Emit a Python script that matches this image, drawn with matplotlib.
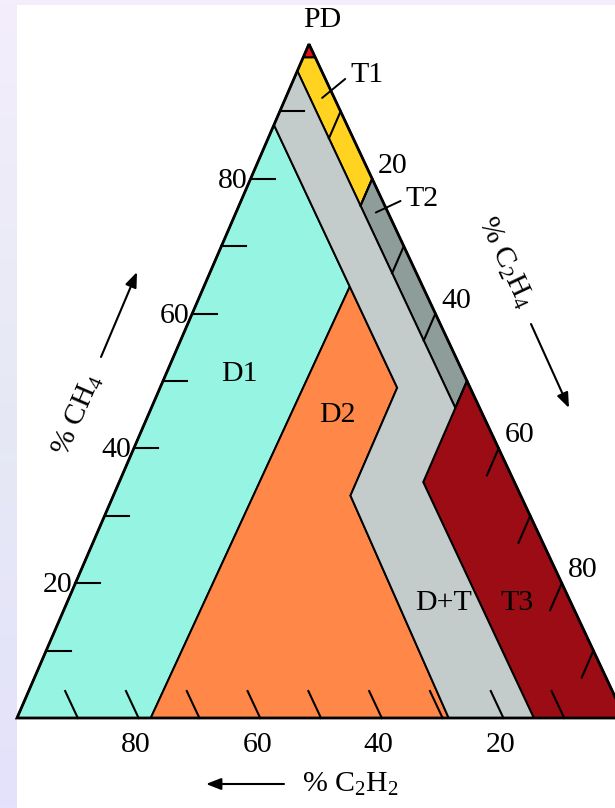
import numpy as np
import matplotlib
matplotlib.use("Agg")
import matplotlib.pyplot as plt
from matplotlib.patches import Polygon, Rectangle

# Duval triangle zones, vertices as (CH4, C2H4, C2H2) in percent
zone_names = ["PD", "T1", "T2", "T3", "D1", "D2", "D+T"]
zone_PD = [(100, 0, 0), (98, 2, 0), (98, 0, 2)]
zone_T1 = [(98, 2, 0), (80, 20, 0), (76, 20, 4), (96, 0, 4), (98, 0, 2)]
zone_T2 = [(80, 20, 0), (50, 50, 0), (46, 50, 4), (76, 20, 4)]
zone_T3 = [(50, 50, 0), (0, 100, 0), (0, 85, 15), (35, 50, 15), (46, 50, 4)]
zone_D1 = [(88, 0, 12), (64, 24, 12), (0, 22, 78), (0, 0, 100)]
zone_D2 = [(64, 24, 12), (49, 39, 12), (33, 39, 28), (0, 71, 29), (0, 22, 78)]
zone_DT = [(96, 0, 4), (46, 50, 4), (35, 50, 15), (0, 85, 15), (0, 71, 29),
           (33, 39, 28), (49, 39, 12), (64, 24, 12), (88, 0, 12)]
zone_colors = ["#e3101c", "#ffd31f", "#8f9d9a", "#9c0c15", "#95f5e2", "#ff8848", "#c4cbcb"]

# label anchor points (CH4, C2H4, C2H2)
label_D1 = (51, 12, 37)
label_D2 = (45, 31, 24)
label_DT = (17, 62, 21)
label_T3 = (17, 74, 9)
leader_T1 = (92, 6, 2)
leader_T2 = (75, 23, 2)

tick_values = [10, 20, 30, 40, 50, 60, 70, 80, 90]
labelled_ticks = [20, 40, 60, 80]
tick_len = 4

W, H = 615, 808
fig = plt.figure(figsize=(W / 100, H / 100), dpi=100)
ax = fig.add_axes([0, 0, 1, 1])
ax.set_xlim(0, W)
ax.set_ylim(H, 0)
ax.axis("off")

plt.rcParams["mathtext.fontset"] = "custom"
plt.rcParams["mathtext.rm"] = "Liberation Serif"
plt.rcParams["mathtext.it"] = "Liberation Serif:italic"
SERIF = "Liberation Serif"
FS = 21.5

# backdrop: lavender frame with a white sheet
grad = np.linspace(0, 1, 256)[:, None]
top_c = np.array([244, 238, 252]) / 255
mid_c = np.array([230, 233, 244]) / 255
bot_c = np.array([228, 226, 252]) / 255
col = np.where(grad < 0.5,
               top_c + (mid_c - top_c) * (grad / 0.5),
               mid_c + (bot_c - mid_c) * ((grad - 0.5) / 0.5))
img = np.repeat(col[:, None, :], 2, axis=1).reshape(256, 2, 3)
ax.imshow(img, extent=(0, W, H, 0), aspect="auto", zorder=0)
ax.add_patch(Rectangle((17, 5), W - 17, H - 5, facecolor="white", edgecolor="none", zorder=0.5))

# triangle corners on the canvas
P_CH4 = np.array([309.0, 44.0])
P_C2H4 = np.array([625.0, 718.0])
P_C2H2 = np.array([17.0, 718.0])


def tern(p):
    ch4, c2h4, c2h2 = p
    s = ch4 + c2h4 + c2h2
    return (ch4 * P_CH4 + c2h4 * P_C2H4 + c2h2 * P_C2H2) / s


zones = [zone_PD, zone_T1, zone_T2, zone_T3, zone_D1, zone_D2, zone_DT]
for pts, c in zip(zones, zone_colors):
    xy = np.array([tern(p) for p in pts])
    ax.add_patch(Polygon(xy, closed=True, facecolor=c, edgecolor="black", lw=1.4, zorder=1,
                         joinstyle="miter"))

# outline
outline = np.array([tern(p) for p in [(100, 0, 0), (0, 100, 0), (0, 0, 100)]])
ax.add_patch(Polygon(outline, closed=True, facecolor="none", edgecolor="black", lw=2.0, zorder=3))

# ticks
for v in tick_values:
    a = tern((v, 0, 100 - v)); b = tern((v, tick_len, 100 - v - tick_len))
    ax.plot([a[0], b[0]], [a[1], b[1]], color="black", lw=1.5, zorder=2)
    a = tern((100 - v, v, 0)); b = tern((100 - v - tick_len, v, tick_len))
    ax.plot([a[0], b[0]], [a[1], b[1]], color="black", lw=1.5, zorder=2)
    a = tern((0, 100 - v, v)); b = tern((tick_len, 100 - v - tick_len, v))
    ax.plot([a[0], b[0]], [a[1], b[1]], color="black", lw=1.5, zorder=2)

txt = dict(family=SERIF, fontsize=FS, color="black", zorder=5)
for v in labelled_ticks:
    x, y = tern((v, 0, 100 - v))
    ax.text(x - 3, y + 2, f"{v}", ha="right", va="center", **txt)
    x, y = tern((100 - v, v, 0))
    ax.text(x + 6, y - 13, f"{v}", ha="left", va="center", **txt)
    x, y = tern((0, 100 - v, v))
    ax.text(x - 3, y + 27, f"{v}", ha="center", va="center", **txt)

# apex label
x, y = tern((100, 0, 0))
ax.text(x + 13, y - 24, "PD", ha="center", va="center", **txt)

# zone labels
for name, p in [("D1", label_D1), ("D2", label_D2), ("D+T", label_DT), ("T3", label_T3)]:
    x, y = tern(p)
    ax.text(x, y, name, ha="center", va="center", **txt)

for name, p, off in [("T1", leader_T1, (28, 23)), ("T2", leader_T2, (30, 14))]:
    ax.annotate(name, xy=tern(p), xytext=off, textcoords="offset pixels",
                ha="left", va="center", fontfamily=SERIF, fontsize=FS, zorder=5,
                arrowprops=dict(arrowstyle="-", color="black", lw=1.4,
                                shrinkA=2, shrinkB=0, relpos=(0, 0.5)))

# axis titles with direction arrows
ang_left = np.degrees(np.arctan2(P_C2H2[1] - P_CH4[1], P_CH4[0] - P_C2H2[0]))
ang_right = np.degrees(np.arctan2(P_C2H4[1] - P_CH4[1], P_C2H4[0] - P_CH4[0]))

ax.text(78, 415, r"% CH$_4$", rotation=ang_left, rotation_mode="anchor",
        ha="center", va="center", **txt)
ax.annotate("", xy=(137, 272), xytext=(101, 357),
            arrowprops=dict(arrowstyle="-|>,head_length=0.9,head_width=0.35", color="black",
                            lw=1.5, shrinkA=0, shrinkB=0))

ax.text(505, 262, r"% C$_2$H$_4$", rotation=-ang_right, rotation_mode="anchor",
        ha="center", va="center", **txt)
ax.annotate("", xy=(569, 408), xytext=(531, 324),
            arrowprops=dict(arrowstyle="-|>,head_length=0.9,head_width=0.35", color="black",
                            lw=1.5, shrinkA=0, shrinkB=0))

ax.text(350, 784, r"% C$_2$H$_2$", ha="center", va="center", **txt)
ax.annotate("", xy=(206, 784), xytext=(284, 784),
            arrowprops=dict(arrowstyle="-|>,head_length=0.9,head_width=0.35", color="black",
                            lw=1.5, shrinkA=0, shrinkB=0))

fig.savefig("out.png", dpi=100)
